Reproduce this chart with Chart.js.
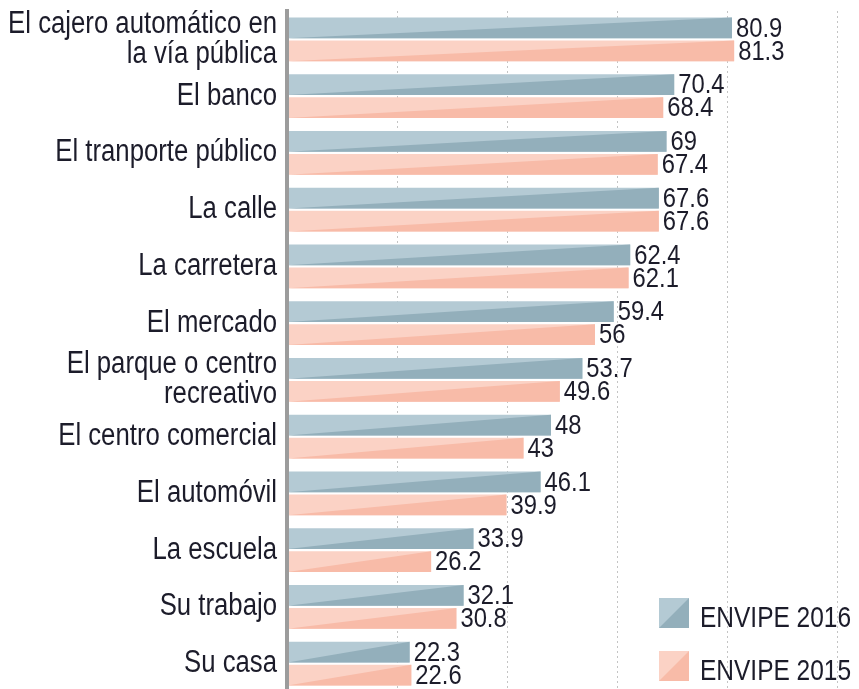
<!DOCTYPE html>
<html>
<head>
<meta charset="utf-8">
<script src="https://cdn.jsdelivr.net/npm/chart.js@4.4.1/dist/chart.umd.min.js"></script>
<style>
  html, body { margin: 0; padding: 0; background: #fff; overflow: hidden; }
</style>
</head>
<body>
<canvas id="chart" width="859" height="695"></canvas>
<script>
const categories = [
  ['El cajero automático en', 'la vía pública'],
  'El banco',
  'El tranporte público',
  'La calle',
  'La carretera',
  'El mercado',
  ['El parque o centro', 'recreativo'],
  'El centro comercial',
  'El automóvil',
  'La escuela',
  'Su trabajo',
  'Su casa',
];
const envipe2016 = [80.9, 70.4, 69, 67.6, 62.4, 59.4, 53.7, 48, 46.1, 33.9, 32.1, 22.3];
const envipe2015 = [81.3, 68.4, 67.4, 67.6, 62.1, 56, 49.6, 43, 39.9, 26.2, 30.8, 22.6];
const seriesNames = ['ENVIPE 2016', 'ENVIPE 2015'];

const FONT = "'Liberation Sans', Arial, sans-serif";
const TEXT = '#1c1c2a';
const tones = [
  { light: '#b4cad4', dark: '#93afbb' },
  { light: '#fbd2c5', dark: '#f8bba8' },
];

// the print font is a condensed face, so squeeze the text horizontally
const drawCondensed = (ctx, text, x, y, size, squeeze, align) => {
  ctx.save();
  ctx.font = `${size}px ${FONT}`;
  ctx.textAlign = align;
  ctx.translate(x, y);
  ctx.scale(squeeze, 1);
  ctx.fillText(text, 0, 0);
  ctx.restore();
};

// dark triangle over each bar, bottom-left to top-right
const twoTone = {
  id: 'twoTone',
  afterDatasetsDraw(chart) {
    const { ctx } = chart;
    chart.data.datasets.forEach((ds, i) => {
      const meta = chart.getDatasetMeta(i);
      ctx.save();
      ctx.fillStyle = tones[i].dark;
      meta.data.forEach((bar) => {
        const { x, y, base, height } = bar.getProps(['x', 'y', 'base', 'height'], true);
        ctx.beginPath();
        ctx.moveTo(base, y + height / 2);
        ctx.lineTo(x, y + height / 2);
        ctx.lineTo(x, y - height / 2);
        ctx.closePath();
        ctx.fill();
      });
      ctx.restore();
    });
  },
};

const categoryLabels = {
  id: 'categoryLabels',
  afterDraw(chart) {
    const { ctx } = chart;
    const yScale = chart.scales.y;
    const right = yScale.right - 10;
    ctx.save();
    ctx.fillStyle = TEXT;
    ctx.textBaseline = 'middle';
    chart.data.labels.forEach((label, i) => {
      const lines = Array.isArray(label) ? label : [label];
      const mid = yScale.getPixelForValue(i);
      lines.forEach((line, k) => {
        const y = mid + (k - (lines.length - 1) / 2) * 30;
        drawCondensed(ctx, line, right, y, 31, 0.83, 'right');
      });
    });
    ctx.restore();
  },
};

const valueLabels = {
  id: 'valueLabels',
  afterDraw(chart) {
    const { ctx } = chart;
    ctx.save();
    ctx.fillStyle = TEXT;
    ctx.textBaseline = 'middle';
    chart.data.datasets.forEach((ds, i) => {
      chart.getDatasetMeta(i).data.forEach((bar, j) => {
        const { x, y } = bar.getProps(['x', 'y'], true);
        drawCondensed(ctx, String(ds.data[j]), x + 4, y + 1, 28, 0.85, 'left');
      });
    });
    ctx.restore();
  },
};

const cornerLegend = {
  id: 'cornerLegend',
  afterDraw(chart) {
    const { ctx } = chart;
    const left = 659;
    const tops = [598, 651];
    const size = 30;
    ctx.save();
    ctx.textBaseline = 'alphabetic';
    chart.data.datasets.forEach((ds, i) => {
      const top = tops[i];
      ctx.fillStyle = tones[i].light;
      ctx.fillRect(left, top, size, size);
      ctx.fillStyle = tones[i].dark;
      ctx.beginPath();
      ctx.moveTo(left, top + size);
      ctx.lineTo(left + size, top + size);
      ctx.lineTo(left + size, top);
      ctx.closePath();
      ctx.fill();
      ctx.fillStyle = TEXT;
      drawCondensed(ctx, ds.label, left + 41, top + 29, 30, 0.816, 'left');
    });
    ctx.restore();
  },
};

new Chart(document.getElementById('chart'), {
  type: 'bar',
  data: {
    labels: categories,
    datasets: [
      { label: seriesNames[0], data: envipe2016, backgroundColor: tones[0].light },
      { label: seriesNames[1], data: envipe2015, backgroundColor: tones[1].light },
    ],
  },
  options: {
    indexAxis: 'y',
    responsive: false,
    animation: false,
    categoryPercentage: 0.81,
    barPercentage: 0.9,
    layout: { padding: { top: 11, bottom: 3, left: 0, right: 0 } },
    scales: {
      x: {
        min: 0,
        max: 104,
        position: 'bottom',
        afterFit: (s) => { s.height = 0; },
        ticks: { display: false, stepSize: 20, includeBounds: false },
        grid: {
          drawTicks: false,
          lineWidth: 1,
          color: (c) => (c.tick && c.tick.value === 0 ? 'rgba(0,0,0,0)' : '#c4c4c4'),
        },
        border: { display: false, dash: [2, 3] },
      },
      y: {
        afterFit: (s) => { s.width = 287; },
        grid: { display: false },
        border: { display: true, color: '#9c9c9c', width: 4, z: 1 },
        ticks: { display: false, autoSkip: false },
      },
    },
    plugins: {
      legend: { display: false },
      tooltip: { enabled: false },
    },
  },
  plugins: [twoTone, categoryLabels, valueLabels, cornerLegend],
});
</script>
</body>
</html>
